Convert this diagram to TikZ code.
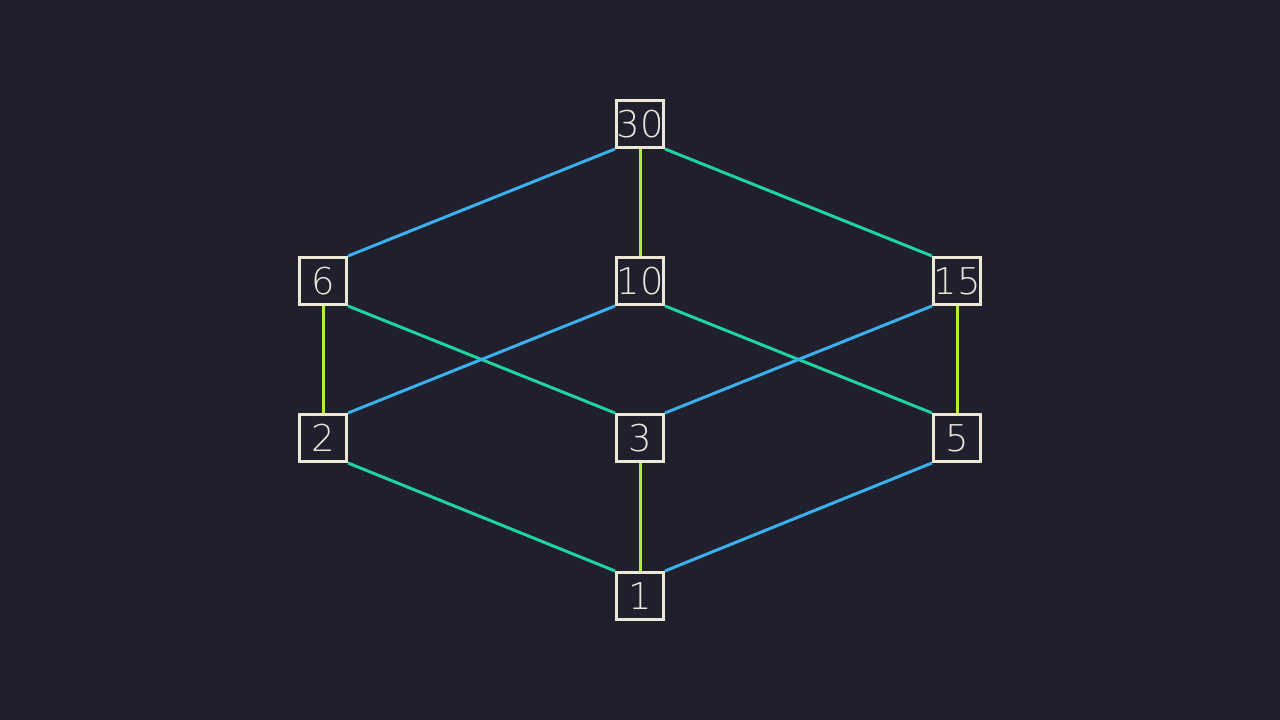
\documentclass[tikz,border=0pt]{standalone}
\usepackage{fontspec}
\setmainfont{DejaVu Sans}[UprightFont=* ExtraLight]
\definecolor{bgdark}{HTML}{1F1F2E}
\definecolor{cream}{HTML}{ECE8D8}
\definecolor{edgeblue}{HTML}{3AB0EC}
\definecolor{edgegreen}{HTML}{1FD4A2}
\definecolor{edgelime}{HTML}{B6F02E}
\begin{document}
\begin{tikzpicture}[
		num/.style={draw=cream, line width=0.85pt, text=cream, minimum size=0.47cm, inner sep=0pt, font=\fontsize{10.5}{10.5}\selectfont},
		eb/.style={edgeblue, line width=0.85pt},
		eg/.style={edgegreen, line width=0.85pt},
		el/.style={edgelime, line width=0.85pt}
	]
	\fill[bgdark] (0,0) rectangle (12.8,7.2);
	\useasboundingbox (0,0) rectangle (12.8,7.2);
	
	\node[num] (n30) at (6.40,5.96) {30};
	\node[num] (n6) at (3.23,4.39) {6};
	\node[num] (n10) at (6.40,4.39) {10};
	\node[num] (n15) at (9.57,4.39) {15};
	\node[num] (n2) at (3.23,2.82) {2};
	\node[num] (n3) at (6.40,2.82) {3};
	\node[num] (n5) at (9.57,2.82) {5};
	\node[num] (n1) at (6.40,1.24) {1};
	
	\draw[eb] (n30.south west) -- (n6.north east);
	\draw[el] (n30.south) -- (n10.north);
	\draw[eg] (n30.south east) -- (n15.north west);
	\draw[el] (n6.south) -- (n2.north);
	\draw[eg] (n6.south east) -- (n3.north west);
	\draw[eb] (n10.south west) -- (n2.north east);
	\draw[eg] (n10.south east) -- (n5.north west);
	\draw[eb] (n15.south west) -- (n3.north east);
	\draw[el] (n15.south) -- (n5.north);
	\draw[eg] (n2.south east) -- (n1.north west);
	\draw[el] (n3.south) -- (n1.north);
	\draw[eb] (n5.south west) -- (n1.north east);
\end{tikzpicture}
\end{document}
